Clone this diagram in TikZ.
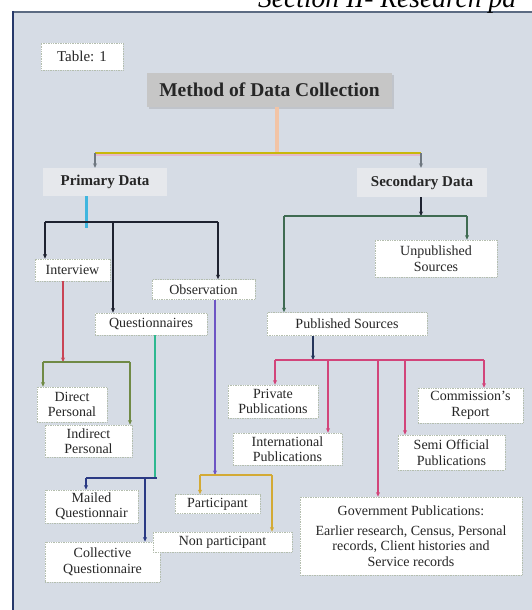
\documentclass[tikz,border=0pt]{standalone}
\usepackage{fontspec}
\setmainfont{Liberation Serif}
\usetikzlibrary{arrows.meta,shadows}
\definecolor{bg}{HTML}{D6DCE5}
\definecolor{frametop}{HTML}{5C6B82}
\definecolor{frameleft}{HTML}{27396B}
\definecolor{boxline}{HTML}{B4BEAE}
\definecolor{methodfill}{HTML}{C6C6C6}
\definecolor{pdfill}{HTML}{E6E8EC}
\definecolor{txt}{HTML}{262626}
\definecolor{peach}{HTML}{F2C4A6}
\definecolor{yel}{HTML}{C8B80A}
\definecolor{pinkln}{HTML}{E4B8CC}
\definecolor{greyarr}{HTML}{6E7780}
\definecolor{cyanln}{HTML}{3FB6DF}
\definecolor{blackln}{HTML}{1E2230}
\definecolor{redln}{HTML}{C94455}
\definecolor{oliveln}{HTML}{708A45}
\definecolor{tealln}{HTML}{2EB890}
\definecolor{navyln}{HTML}{2B3A84}
\definecolor{purpleln}{HTML}{6E55C4}
\definecolor{goldln}{HTML}{D3AA35}
\definecolor{greenln}{HTML}{3F6B52}
\definecolor{navytwo}{HTML}{25355A}
\definecolor{magln}{HTML}{D2457A}
\begin{document}
\begin{tikzpicture}[x=1pt,y=-1pt,
  box/.style={draw=boxline, densely dotted, line width=0.7pt, fill=white, align=center,
    inner sep=0pt, text=txt, font=\fontsize{14}{15.5}\selectfont},
  headbox/.style={fill=pdfill, inner sep=0pt, text=txt, font=\bfseries\fontsize{15}{17}\selectfont},
  ln/.style={line width=1.6pt},
  tip/.style={-{Stealth[length=4.5pt,width=4pt]}},
]
\useasboundingbox (0,0) rectangle (531,610);
% frame
\fill[bg] (13,12) rectangle (540,620);
\draw[frametop, line width=2pt] (13,12) -- (540,12);
\draw[frameleft, line width=2.2pt] (13,11) -- (13,620);
% header text (cut off at top and right, as in the reference)
\node[anchor=base west, inner sep=0pt, font=\itshape\fontsize{27.5}{30}\selectfont] (hdr) at (258,8) {Section II- Research pa};

% nodes
\node[box, minimum width=82pt, minimum height=27pt, font=\fontsize{15}{17}\selectfont] (table) at (82,56.5) {Table: 1};
\node[fill=methodfill, drop shadow={opacity=0.25, shadow xshift=1.5pt, shadow yshift=-1.5pt},
  minimum width=245pt, minimum height=34pt, inner sep=0pt, text=txt,
  font=\bfseries\fontsize{19.5}{21}\selectfont] (method) at (269.5,90) {Method of Data Collection};
\node[headbox, minimum width=124pt, minimum height=28pt] (primary) at (105,182) {Primary Data};
\node[headbox, minimum width=130pt, minimum height=29pt] (secondary) at (422,182.5) {Secondary Data};

\node[box, minimum width=75pt, minimum height=22pt] (interview) at (72.5,270) {Interview};
\node[box, minimum width=103pt, minimum height=20pt] (observation) at (203.5,289.5) {Observation};
\node[box, minimum width=112pt, minimum height=22pt] (questionnaires) at (151,324) {Questionnaires};
\node[box, minimum width=70pt, minimum height=35pt] (direct) at (72,404.5) {Direct\\Personal};
\node[box, minimum width=87pt, minimum height=32pt] (indirect) at (88.5,441) {Indirect\\Personal};
\node[box, minimum width=93pt, minimum height=33pt] (mailed) at (91.5,506.5) {Mailed\\Questionnair};
\node[box, minimum width=115pt, minimum height=40pt] (collective) at (102.5,562) {Collective\\Questionnaire};
\node[box, minimum width=85pt, minimum height=19pt] (participant) at (217.5,504) {Participant};
\node[box, minimum width=139pt, minimum height=20pt] (nonpart) at (222.5,542) {Non participant};

\node[box, minimum width=122pt, minimum height=37pt] (unpublished) at (436,258.5) {Unpublished\\Sources};
\node[box, minimum width=160pt, minimum height=23pt] (published) at (347,324) {Published Sources};
\node[box, minimum width=90pt, minimum height=33pt] (private) at (273,401.5) {Private\\Publications};
\node[box, minimum width=109pt, minimum height=32pt] (international) at (287.5,449) {International\\Publications};
\node[box, minimum width=105pt, minimum height=35pt] (commission) at (470.5,405.5) {Commission's\\Report};
\node[box, minimum width=107pt, minimum height=35pt] (semi) at (451.5,452.5) {Semi Official\\Publications};
\node[box, minimum width=222pt, minimum height=78pt] (government) at (411,536) {Government Publications:\\[4pt]Earlier research, Census, Personal\\records, Client histories and\\Service records};

% junction coordinates
\coordinate (jm) at (277,153);
\coordinate (jp) at (95,153);
\coordinate (js) at (421,153);
\coordinate (pb) at (86,222);
\coordinate (b1l) at (45,222);
\coordinate (b1m) at (113,222);
\coordinate (b1r) at (218,222);
\coordinate (i1) at (63,362);
\coordinate (o1l) at (43,362);
\coordinate (o1r) at (130,362);
\coordinate (q1) at (155,478);
\coordinate (n1l) at (86,478);
\coordinate (n1m) at (145,478);
\coordinate (n1r) at (157,478);
\coordinate (ob) at (215,475);
\coordinate (g1l) at (200,475);
\coordinate (g1r) at (272,475);
\coordinate (sb) at (421,216);
\coordinate (gl) at (284,216);
\coordinate (gr) at (467,216);
\coordinate (pj) at (313,360);
\coordinate (ml) at (275,360);
\coordinate (mi) at (328,360);
\coordinate (mg) at (378,360);
\coordinate (ms) at (405,360);
\coordinate (mr) at (484,360);

% top level
\draw[peach, line width=4pt] (jm |- method.south) -- (jm);
\draw[pinkln, line width=1.6pt] ([yshift=-2.2pt]jp) -- ([yshift=-2.2pt]js);
\draw[yel, line width=1.8pt] (jp) -- (js);
\draw[greyarr, ln, tip] (jp) -- (jp |- primary.north);
\draw[greyarr, ln, tip] (js) -- (js |- secondary.north);

% primary
\draw[cyanln, line width=3pt] (pb |- primary.south) -- ([yshift=-6pt]pb);
\draw[blackln, line width=2pt] (b1l) -- (b1r);
\draw[blackln, line width=2pt, tip] (b1l) -- (b1l |- interview.north);
\draw[blackln, line width=2pt, tip] (b1m) -- (b1m |- questionnaires.north);
\draw[blackln, line width=2pt, tip] (b1r) -- (b1r |- observation.north);

\draw[redln, line width=2pt, tip] (i1 |- interview.south) -- (i1);
\draw[oliveln, ln] (o1l) -- (o1r);
\draw[oliveln, ln, tip] (o1l) -- (o1l |- direct.north);
\draw[oliveln, ln, tip] (o1r) -- (o1r |- indirect.north);

\draw[tealln, line width=2pt] (q1 |- questionnaires.south) -- (q1);
\draw[navyln, ln] (n1l) -- (n1r);
\draw[navyln, ln, tip] (n1l) -- (n1l |- mailed.north);
\draw[navyln, ln, tip] (n1m) -- (n1m |- collective.north);

\draw[purpleln, ln, tip] (ob |- observation.south) -- (ob);
\draw[goldln, ln] (g1l) -- (g1r);
\draw[goldln, ln, tip] (g1l) -- (g1l |- participant.north);
\draw[goldln, ln, tip] (g1r) -- (g1r |- nonpart.north);

% secondary
\draw[blackln, line width=2pt, tip] (sb |- secondary.south) -- (sb);
\draw[greenln, ln] (gl) -- (gr);
\draw[greenln, ln, tip] (gl) -- (gl |- published.north);
\draw[greenln, ln, tip] (gr) -- (gr |- unpublished.north);

\draw[navytwo, line width=2pt, tip] (pj |- published.south) -- (pj);
\draw[magln, ln] (ml) -- (mr);
\draw[magln, ln, tip] (ml) -- (ml |- private.north);
\draw[magln, ln, tip] (mi) -- (mi |- international.north);
\draw[magln, ln, tip] (mg) -- (mg |- government.north);
\draw[magln, ln, tip] (ms) -- (ms |- semi.north);
\draw[magln, ln, tip] (mr) -- (mr |- commission.north);
\end{tikzpicture}
\end{document}
